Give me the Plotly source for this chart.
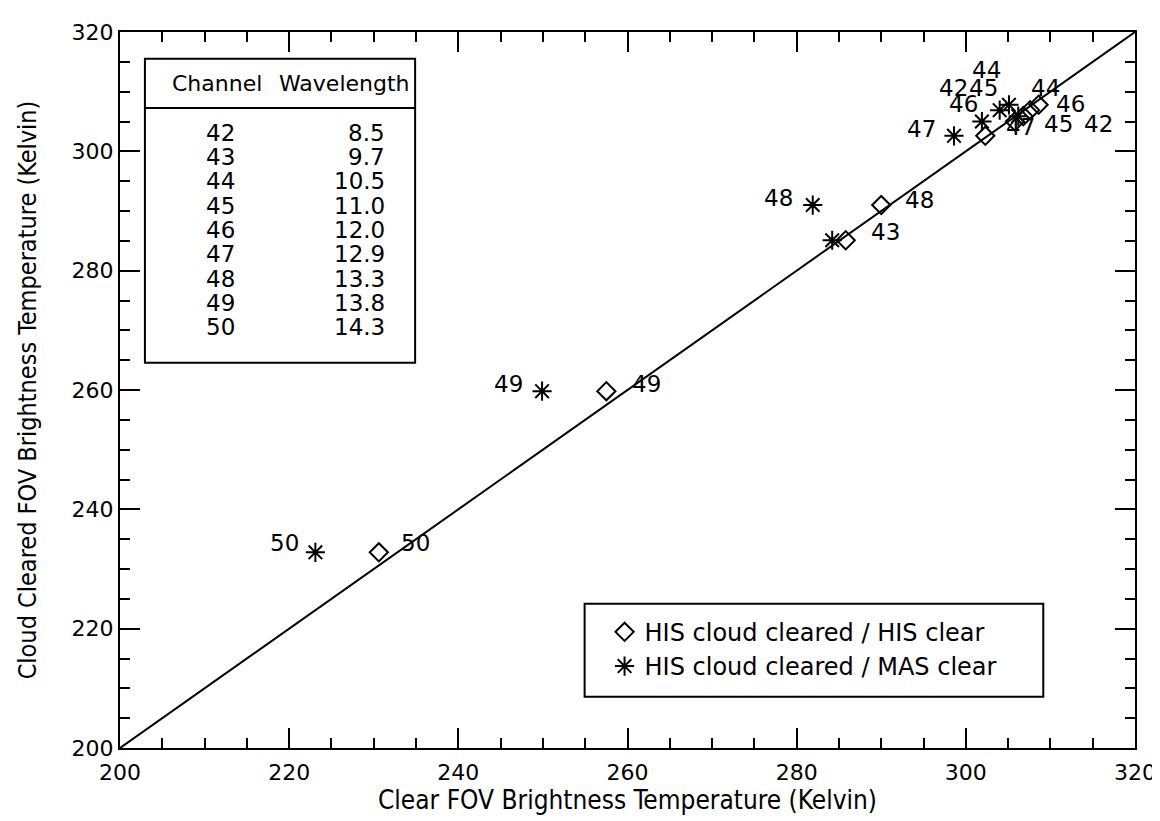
import plotly.graph_objects as go

# ---------------- data ----------------
channels = [42, 43, 44, 45, 46, 47, 48, 49, 50]
wavelengths = ["8.5", "9.7", "10.5", "11.0", "12.0", "12.9", "13.3", "13.8", "14.3"]
cloud_cleared_bt = [305.0, 285.1, 307.8, 306.9, 305.9, 302.6, 291.0, 259.8, 232.8]
his_clear_bt = [305.8, 285.8, 308.6, 307.6, 306.8, 302.3, 290.0, 257.5, 230.6]
mas_clear_bt = [301.9, 284.2, 305.1, 304.0, 306.2, 298.6, 281.9, 249.9, 223.1]
one_to_one = [200, 320]
tick_vals = [200, 220, 240, 260, 280, 300, 320]

# label pixel offsets (style only)
his_label_shift = [(84, -2), (40, 8), (7, 17), (28, -14), (47, 12), (35, 9), (38, 5), (40, 7), (37, 9)]
mas_label_shift = [(-28, 34), None, (-22, 35), (-16, 22), (-55, 12), (-32, 7), (-34, 7), (-34, 7), (-31, 9)]

# ---------------- layout geometry ----------------
WIDTH, HEIGHT = 1160, 821
L, R, T, B = 112, 1130, 15, 740
PW, PH = R - L, B - T


def fx(p):
    return (p - L) / PW


def fy(p):
    return (B - p) / PH


FONT = "DejaVu Sans"
TITLE_FONT = "DejaVu Sans Condensed, DejaVu Sans"

fig = go.Figure()

fig.add_trace(go.Scatter(
    x=one_to_one, y=one_to_one, mode="lines",
    line=dict(color="black", width=2), showlegend=False, hoverinfo="skip"))

fig.add_trace(go.Scatter(
    x=his_clear_bt, y=cloud_cleared_bt, mode="markers",
    name="HIS cloud cleared / HIS clear",
    marker=dict(symbol="diamond-open", size=14, color="black",
                line=dict(color="black", width=2))))

fig.add_trace(go.Scatter(
    x=mas_clear_bt, y=cloud_cleared_bt, mode="markers",
    name="HIS cloud cleared / MAS clear",
    marker=dict(symbol="asterisk-open", size=16, color="black",
                line=dict(color="black", width=2))))

annotations = []
for ch, xv, yv, sh in zip(channels, his_clear_bt, cloud_cleared_bt, his_label_shift):
    annotations.append(dict(x=xv, y=yv, xref="x", yref="y", text=str(ch),
                            showarrow=False, xshift=sh[0], yshift=sh[1],
                            font=dict(family=FONT, size=23, color="black")))
for ch, xv, yv, sh in zip(channels, mas_clear_bt, cloud_cleared_bt, mas_label_shift):
    if sh is None:
        continue
    annotations.append(dict(x=xv, y=yv, xref="x", yref="y", text=str(ch),
                            showarrow=False, xshift=sh[0], yshift=sh[1],
                            font=dict(family=FONT, size=23, color="black")))

# table of channels / wavelengths
annotations.append(dict(x=fx(209), y=fy(67), xref="paper", yref="paper", text="Channel",
                        showarrow=False, xanchor="center", yanchor="middle",
                        font=dict(family=FONT, size=22, color="black")))
annotations.append(dict(x=fx(337), y=fy(67), xref="paper", yref="paper", text="Wavelength",
                        showarrow=False, xanchor="center", yanchor="middle",
                        font=dict(family=FONT, size=22, color="black")))
for i, (ch, wl) in enumerate(zip(channels, wavelengths)):
    yrow = 117 + 24.6 * i
    annotations.append(dict(x=fx(229), y=fy(yrow), xref="paper", yref="paper", text=str(ch),
                            showarrow=False, xanchor="right", yanchor="middle",
                            font=dict(family=FONT, size=23, color="black")))
    annotations.append(dict(x=fx(380), y=fy(yrow), xref="paper", yref="paper", text=wl,
                            showarrow=False, xanchor="right", yanchor="middle",
                            font=dict(family=FONT, size=23, color="black")))

shapes = [
    dict(type="rect", xref="paper", yref="paper", x0=fx(137), x1=fx(408), y0=fy(350), y1=fy(42),
         line=dict(color="black", width=2)),
    dict(type="line", xref="paper", yref="paper", x0=fx(137), x1=fx(408), y0=fy(92), y1=fy(92),
         line=dict(color="black", width=2)),
    dict(type="rect", xref="paper", yref="paper", x0=fx(578), x1=fx(1038), y0=fy(688), y1=fy(594),
         line=dict(color="black", width=2)),
]

axis_common = dict(
    range=[200, 320], tickvals=tick_vals, ticks="inside", ticklen=20, tickwidth=2,
    tickcolor="black", showline=True, linecolor="black", linewidth=2, mirror="allticks",
    showgrid=False, zeroline=False,
    tickfont=dict(family=FONT, size=22, color="black"),
    minor=dict(dtick=5, tick0=200, ticks="inside", ticklen=10, tickwidth=2,
               tickcolor="black", showgrid=False),
)

fig.update_layout(
    width=WIDTH, height=HEIGHT,
    margin=dict(l=L, r=WIDTH - R, t=T, b=HEIGHT - B),
    paper_bgcolor="white", plot_bgcolor="white",
    xaxis=dict(**axis_common, ticklabelstandoff=4,
               title=dict(text="Clear FOV Brightness Temperature (Kelvin)",
                          font=dict(family=TITLE_FONT, size=26, color="black"), standoff=5)),
    yaxis=dict(**axis_common,
               title=dict(text="Cloud Cleared FOV Brightness Temperature (Kelvin)",
                          font=dict(family=TITLE_FONT, size=25, color="black"), standoff=28)),
    showlegend=True,
    legend=dict(x=fx(598), y=fy(600), xanchor="left", yanchor="top",
                bgcolor="rgba(0,0,0,0)", borderwidth=0,
                font=dict(family=FONT, size=24, color="black"),
                itemsizing="trace", tracegroupgap=0),
    annotations=annotations,
    shapes=shapes,
)

fig.write_html("out.html")
